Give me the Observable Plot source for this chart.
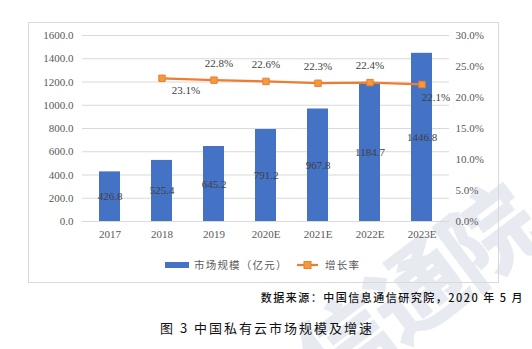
<!DOCTYPE html>
<html>
<head>
<meta charset="utf-8">
<script src="https://cdn.jsdelivr.net/npm/d3@7"></script>
<script src="https://cdn.jsdelivr.net/npm/@observablehq/plot@0.6"></script>
<style>
  html, body { margin: 0; padding: 0; background: #fff; }
  #wrap { position: relative; width: 532px; height: 349px; overflow: hidden; background: #fff; }
  #frame { position: absolute; left: 28px; top: 22px; width: 471px; height: 261px; border: 1px solid #d9d9d9; box-sizing: border-box; }
  #chart { position: absolute; left: 0; top: 0; }
  #chart svg text { font-family: "Liberation Serif", serif !important; font-variant-numeric: normal !important; }
  .cjk { font-family: "Noto Sans CJK SC", sans-serif; }
  #legend { position: absolute; top: 257px; left: 0; width: 532px; height: 16px; font-size: 10.5px; color: #595959; letter-spacing: 1.2px; }
  #source { position: absolute; top: 289px; right: 8px; font-size: 11px; color: #111; font-weight: 500; letter-spacing: 1.5px; white-space: nowrap; }
  #caption { position: absolute; top: 318px; left: 160px; font-size: 13px; color: #111; letter-spacing: 2px; white-space: nowrap; }
  #wm { position: absolute; left: 276px; top: 330px; font-size: 94px; line-height: 94px; font-weight: 900; color: #e8eaf1; transform: rotate(-37deg); transform-origin: left top; white-space: nowrap; pointer-events: none; letter-spacing: -4px; }
</style>
</head>
<body>
<div id="wrap">
  <div id="wm" class="cjk">信通院</div>
  <div id="frame"></div>
  <div id="chart"></div>
  <div id="legend" class="cjk"></div>
  <div id="source" class="cjk">数据来源：中国信息通信研究院，2020 年 5 月</div>
  <div id="caption" class="cjk">图 3 中国私有云市场规模及增速</div>
</div>
<script>
// ---- data ----
const years = ["2017", "2018", "2019", "2020E", "2021E", "2022E", "2023E"];
const marketSize = [426.8, 525.4, 645.2, 791.2, 967.8, 1184.7, 1446.8];
const growthYears = ["2018", "2019", "2020E", "2021E", "2022E", "2023E"];
const growthRate = [23.1, 22.8, 22.6, 22.3, 22.4, 22.1];
const leftTicks = [0, 200, 400, 600, 800, 1000, 1200, 1400, 1600];
const rightTicks = [0, 5, 10, 15, 20, 25, 30];
const seriesNames = ["市场规模（亿元）", "增长率"];

const BLUE = "#4472C4";
const ORANGE = "#ED7D31";
const SERIF = "Liberation Serif";
const K = 1600 / 30; // percent -> left-axis units

const bars = years.map((y, i) => ({year: y, value: marketSize[i]}));
const growth = growthYears.map((y, i) => ({year: y, rate: growthRate[i], yv: growthRate[i] * K, i}));
const last = growth.length - 1;
const pct = d => d.rate.toFixed(1) + "%";
const lbl = {fill: "#404040", fontSize: 11, fontFamily: SERIF};

const chart = Plot.plot({
  width: 532,
  height: 285,
  marginTop: 35,
  marginBottom: 64,
  marginLeft: 82,
  marginRight: 83,
  style: {fontFamily: "'Liberation Serif', serif", fontSize: "11px", color: "#595959", background: "transparent"},
  x: {domain: years, paddingInner: 0.6, paddingOuter: 0.3, label: null},
  y: {domain: [0, 1600], label: null},
  marks: [
    Plot.ruleY(leftTicks, {stroke: "#d9d9d9", strokeWidth: 1}),
    Plot.axisY({ticks: leftTicks, tickSize: 0, tickPadding: 9, tickFormat: d => d.toFixed(1), label: null, fill: "#595959", fontFamily: SERIF, fontSize: 11}),
    Plot.axisY({anchor: "right", ticks: rightTicks.map(p => p * K), tickSize: 0, tickPadding: 6,
      tickFormat: d => (d / K).toFixed(1) + "%", label: null, fill: "#595959", fontFamily: SERIF, fontSize: 11}),
    Plot.axisX({tickSize: 0, tickPadding: 9, label: null, fill: "#595959", fontFamily: SERIF, fontSize: 11}),
    Plot.barY(bars, {x: "year", y: "value", fill: BLUE}),
    Plot.text(bars, {x: "year", y: d => d.value / 2, text: d => d.value.toFixed(1), ...lbl}),
    Plot.line(growth, {x: "year", y: "yv", stroke: ORANGE, strokeWidth: 2.25}),
    Plot.dot(growth, {x: "year", y: "yv", symbol: "square", r: 3.6, fill: "#F39A3C", stroke: ORANGE, strokeWidth: 1}),
    Plot.text(growth.filter(d => d.i === 0), {x: "year", y: "yv", text: pct, ...lbl, dx: 24, dy: 12}),
    Plot.text(growth.filter(d => d.i === last), {x: "year", y: "yv", text: pct, ...lbl, dx: 14, dy: 13}),
    Plot.text(growth.filter(d => d.i === 1), {x: "year", y: "yv", text: pct, ...lbl, dx: 5, dy: -17}),
    Plot.text(growth.filter(d => d.i > 1 && d.i < last), {x: "year", y: "yv", text: pct, ...lbl, dy: -17})
  ]
});
document.getElementById("chart").appendChild(chart);

// legend
const legend = d3.select("#legend");
const lsvg = legend.append("svg").attr("width", 532).attr("height", 16).style("position", "absolute").style("left", 0).style("top", 0);
lsvg.append("rect").attr("x", 165).attr("y", 5).attr("width", 24).attr("height", 6).attr("fill", BLUE);
lsvg.append("line").attr("x1", 297).attr("x2", 318).attr("y1", 8).attr("y2", 8).attr("stroke", ORANGE).attr("stroke-width", 2.25);
lsvg.append("rect").attr("x", 304).attr("y", 4.5).attr("width", 7).attr("height", 7).attr("fill", "#F39A3C").attr("stroke", ORANGE);
legend.append("span").text(seriesNames[0]).style("position", "absolute").style("left", "194px").style("top", "0px");
legend.append("span").text(seriesNames[1]).style("position", "absolute").style("left", "325px").style("top", "0px");
</script>
</body>
</html>
